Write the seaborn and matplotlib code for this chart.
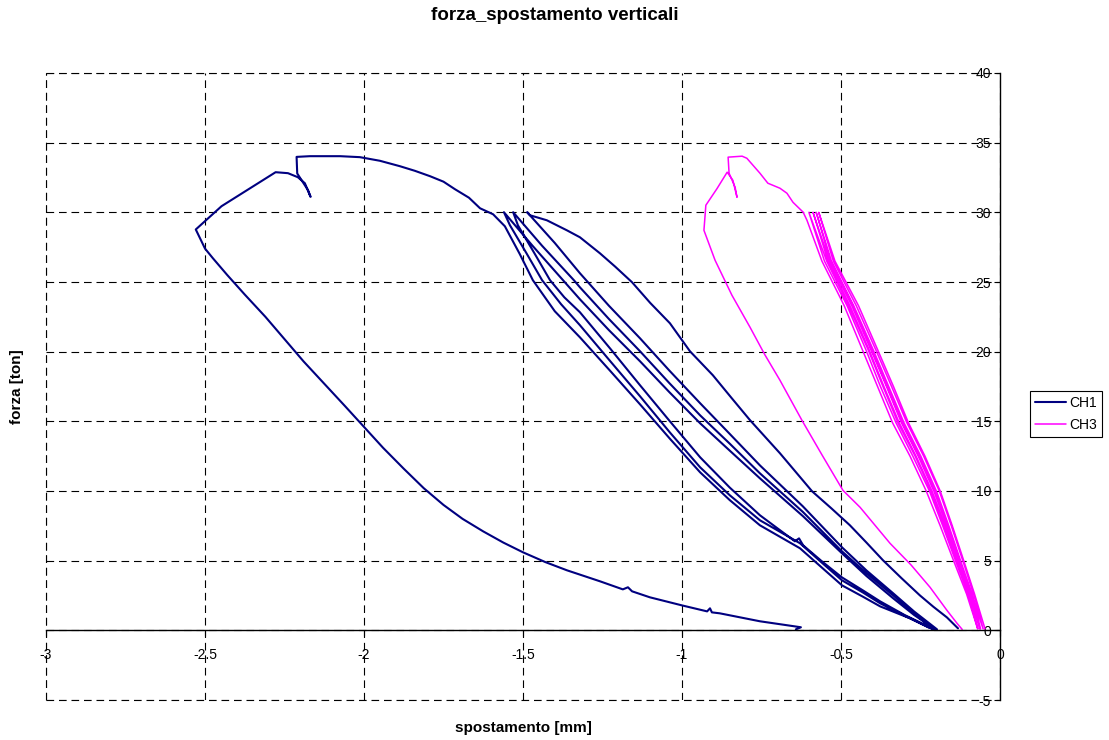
import matplotlib
matplotlib.use("Agg")
import matplotlib.pyplot as plt
from matplotlib.ticker import FuncFormatter
from matplotlib.lines import Line2D
import numpy as np
import pandas as pd
import seaborn as sns

sns.set_style("white")
plt.rcParams["font.family"] = ["Liberation Sans", "DejaVu Sans"]
plt.rcParams["axes.unicode_minus"] = False
plt.rcParams["lines.scale_dashes"] = False
for k in ["text.color", "axes.labelcolor", "xtick.color", "ytick.color"]:
    plt.rcParams[k] = "black"

# ---------------- CH1 ----------------
# first loading branch, peak with hook, plateau and descent to the cycles
ch1_primo_x = [-0.642, -0.626, -0.755, -0.881, -0.906, -0.912, -0.921, -1.000, -1.101, -1.157,
               -1.170, -1.186, -1.258, -1.362, -1.430, -1.500, -1.562, -1.625, -1.690, -1.750,
               -1.812, -1.875, -1.940, -2.000, -2.060, -2.125, -2.190, -2.250, -2.310, -2.375,
               -2.430, -2.475, -2.500, -2.529, -2.448, -2.360, -2.278, -2.239, -2.208, -2.186,
               -2.168, -2.176, -2.210, -2.212, -2.170, -2.075, -2.013, -1.950, -1.887, -1.840,
               -1.792, -1.750, -1.714, -1.670, -1.635, -1.594]
ch1_primo_y = [0.07, 0.22, 0.65, 1.22, 1.29, 1.58, 1.36, 1.79, 2.37, 2.80,
               3.09, 2.94, 3.52, 4.31, 4.90, 5.60, 6.30, 7.10, 8.00, 9.00,
               10.20, 11.60, 13.10, 14.60, 16.10, 17.70, 19.30, 20.90, 22.50, 24.10,
               25.50, 26.70, 27.40, 28.77, 30.44, 31.70, 32.88, 32.81, 32.52, 32.09,
               31.11, 31.59, 32.79, 33.98, 34.03, 34.03, 33.96, 33.70, 33.31, 32.98,
               32.59, 32.20, 31.66, 31.05, 30.29, 29.86]

# cycle branches (in acquisition order)
ch1_scarico1_x = [-1.557, -1.510, -1.469, -1.400, -1.321, -1.225, -1.132, -1.038, -0.943, -0.850,
                  -0.755, -0.629, -0.560, -0.497, -0.430, -0.377, -0.283, -0.226]
ch1_scarico1_y = [29.00, 27.00, 25.13, 22.90, 21.03, 18.60, 16.22, 13.75, 11.34, 9.35,
                  7.54, 5.89, 4.50, 3.23, 2.40, 1.72, 0.86, 0.22]

ch1_ricarico1_x = [-0.204, -0.270, -0.336, -0.420, -0.497, -0.620, -0.755, -0.850, -0.943, -1.040,
                   -1.132, -1.230, -1.321, -1.374, -1.470, -1.560]
ch1_ricarico1_y = [0.07, 1.10, 2.30, 3.90, 5.53, 8.20, 10.91, 12.90, 14.86, 17.10,
                   19.31, 21.55, 23.76, 25.13, 27.60, 30.01]

ch1_scarico2_x = [-1.541, -1.490, -1.440, -1.380, -1.321, -1.225, -1.132, -1.038, -0.943, -0.850,
                  -0.755, -0.629, -0.560, -0.497, -0.430, -0.377, -0.300, -0.236, -0.211]
ch1_scarico2_y = [29.07, 27.10, 25.13, 23.40, 21.90, 19.30, 16.80, 14.20, 11.70, 9.70,
                  7.90, 6.25, 4.85, 3.59, 2.70, 1.94, 1.05, 0.36, 0.07]

ch1_ricarico2_x = [-0.270, -0.336, -0.420, -0.497, -0.620, -0.755, -0.850, -0.943, -1.040, -1.132,
                   -1.230, -1.321, -1.340, -1.440, -1.531]
ch1_ricarico2_y = [1.25, 2.51, 4.10, 5.67, 8.50, 11.27, 13.40, 15.43, 17.75, 20.03,
                   22.35, 24.62, 25.13, 27.60, 30.01]

ch1_scarico3_x = [-1.516, -1.465, -1.415, -1.370, -1.321, -1.225, -1.132, -1.038, -0.943, -0.850,
                  -0.755, -0.645, -0.632, -0.619, -0.560, -0.497, -0.430, -0.377, -0.300, -0.220]
ch1_scarico3_y = [29.07, 27.10, 25.13, 23.90, 22.83, 20.20, 17.59, 15.00, 12.42, 10.25,
                  8.26, 6.39, 6.60, 6.10, 4.95, 3.80, 2.85, 2.08, 1.10, 0.22]

ch1_ricarico3_x = [-0.198, -0.270, -0.336, -0.420, -0.497, -0.620, -0.755, -0.850, -0.943, -1.040,
                   -1.132, -1.230, -1.321, -1.400, -1.487]
ch1_ricarico3_y = [0.07, 1.35, 2.66, 4.30, 5.96, 8.90, 11.84, 14.10, 16.30, 18.65,
                   20.96, 23.30, 25.63, 27.80, 30.01]

ch1_scarico4_x = [-1.478, -1.425, -1.362, -1.321, -1.258, -1.210, -1.157, -1.100, -1.038, -0.975,
                  -0.903, -0.845, -0.786, -0.692, -0.591, -0.530, -0.472, -0.420, -0.368, -0.310,
                  -0.252, -0.210, -0.167, -0.132]
ch1_scarico4_y = [29.79, 29.43, 28.71, 28.21, 27.06, 26.10, 24.98, 23.50, 22.04, 20.03,
                  18.31, 16.70, 15.08, 12.71, 9.98, 8.75, 7.54, 6.30, 5.03, 3.75,
                  2.51, 1.70, 0.93, 0.14]

# ---------------- CH3 ----------------
ch3_primo_x = [-0.119, -0.135, -0.167, -0.220, -0.280, -0.346, -0.440, -0.494, -0.560, -0.623,
               -0.692, -0.740, -0.786, -0.843, -0.896, -0.931, -0.925, -0.890, -0.858, -0.840,
               -0.827, -0.833, -0.852, -0.855, -0.811, -0.796, -0.755, -0.730, -0.692, -0.670,
               -0.651, -0.619, -0.607]
ch3_primo_y = [0.07, 0.50, 1.44, 3.09, 4.70, 6.25, 8.83, 10.05, 12.60, 15.08,
               17.95, 19.80, 21.75, 24.05, 26.56, 28.71, 30.51, 31.70, 32.88, 32.30,
               31.08, 31.80, 32.81, 33.96, 34.03, 33.88, 32.81, 32.09, 31.73, 31.37,
               30.72, 30.01, 29.43]

# cycles: displacement read at fixed force levels (top -> bottom)
ch3_livelli = [30.0, 26.5, 23.3, 20.1, 17.5, 14.9, 12.5, 10.0, 7.5, 5.0, 2.6, 0.1]
ch3_scarico1 = [-0.560, -0.490, -0.432, -0.385, -0.338, -0.283, -0.232, -0.188, -0.146, -0.105, -0.070]
ch3_ricarico1 = [-0.601, -0.552, -0.481, -0.421, -0.376, -0.327, -0.274, -0.222, -0.180, -0.140, -0.100, -0.070]
ch3_scarico2 = [-0.601, -0.545, -0.476, -0.414, -0.368, -0.321, -0.267, -0.217, -0.176, -0.137, -0.097, -0.064]
ch3_ricarico2 = [-0.588, -0.536, -0.466, -0.405, -0.357, -0.310, -0.257, -0.208, -0.167, -0.129, -0.091, -0.064]
ch3_scarico3 = [-0.588, -0.541, -0.472, -0.411, -0.365, -0.317, -0.264, -0.214, -0.172, -0.134, -0.096, -0.061]
ch3_ricarico3 = [-0.578, -0.530, -0.460, -0.398, -0.350, -0.302, -0.249, -0.200, -0.161, -0.124, -0.088, -0.061]
ch3_scarico4 = [-0.578, -0.533, -0.463, -0.403, -0.355, -0.307, -0.254, -0.205, -0.164, -0.127, -0.090, -0.053]
ch3_ricarico4 = [-0.570, -0.524, -0.452, -0.390, -0.341, -0.293, -0.240, -0.191, -0.153, -0.117, -0.083, -0.053]
ch3_scarico5 = [-0.570, -0.519, -0.445, -0.384, -0.335, -0.288, -0.236, -0.188, -0.150, -0.114, -0.080, -0.047]

x_ticks = [-3, -2.5, -2, -1.5, -1, -0.5, 0]
y_ticks = [-5, 0, 5, 10, 15, 20, 25, 30, 35, 40]
canali = ["CH1", "CH3"]
colori = {"CH1": "#000080", "CH3": "#FF00FF"}
spessori = {"CH1": 1.5, "CH3": 1.1}

# ---- assemble the acquisition paths ----
ch1_x = (ch1_primo_x + ch1_scarico1_x + ch1_ricarico1_x + ch1_scarico2_x + ch1_ricarico2_x
         + ch1_scarico3_x + ch1_ricarico3_x + ch1_scarico4_x)
ch1_y = (ch1_primo_y + ch1_scarico1_y + ch1_ricarico1_y + ch1_scarico2_y + ch1_ricarico2_y
         + ch1_scarico3_y + ch1_ricarico3_y + ch1_scarico4_y)

giu = ch3_livelli
su = ch3_livelli[::-1]
ch3_x = (ch3_primo_x + ch3_scarico1 + ch3_ricarico1[::-1] + ch3_scarico2 + ch3_ricarico2[::-1]
         + ch3_scarico3 + ch3_ricarico3[::-1] + ch3_scarico4 + ch3_ricarico4[::-1] + ch3_scarico5)
ch3_y = (ch3_primo_y + giu[1:] + su + giu + su + giu + su + giu + su + giu)

df = pd.concat([
    pd.DataFrame({"spostamento": ch1_x, "forza": ch1_y, "canale": "CH1"}),
    pd.DataFrame({"spostamento": ch3_x, "forza": ch3_y, "canale": "CH3"}),
], ignore_index=True)

W, H = 1109, 740
fig = plt.figure(figsize=(W / 100, H / 100), dpi=100)
ax = fig.add_axes([46 / W, 40 / H, 954 / W, 627 / H])

for c in canali:
    sns.lineplot(data=df[df.canale == c], x="spostamento", y="forza", color=colori[c],
                 sort=False, estimator=None, linewidth=spessori[c], ax=ax, legend=False)

ax.set_xlim(-3, 0)
ax.set_ylim(-5, 40)
ax.set_xticks(x_ticks)
ax.set_yticks(y_ticks)
fmt = FuncFormatter(lambda v, p: f"{v:g}")
ax.xaxis.set_major_formatter(fmt)
ax.yaxis.set_major_formatter(fmt)

griglia = dict(color="black", linestyle=(0, (5.5, 3.5)), linewidth=0.8)
ax.grid(True, **griglia)
# plot-area border lines drawn whole (not half-clipped at the edges)
ax.axhline(y_ticks[0], clip_on=False, zorder=1, **griglia)
ax.axhline(y_ticks[-1], clip_on=False, zorder=1, **griglia)
ax.axvline(x_ticks[0], clip_on=False, zorder=1, **griglia)

for s in ["top", "right"]:
    ax.spines[s].set_visible(False)
ax.spines["left"].set_position(("data", 0))
ax.spines["bottom"].set_position(("data", 0))
for s in ["left", "bottom"]:
    ax.spines[s].set_color("black")
    ax.spines[s].set_linewidth(1.0)
    ax.spines[s].set_zorder(3)

ax.tick_params(axis="y", direction="out", length=4, width=0.8, color="black",
               labelcolor="black", labelsize=10, pad=2.5, left=True)
ax.tick_params(axis="x", direction="out", length=4, width=0.8, color="black",
               labelcolor="black", labelsize=10, pad=9, bottom=True)

ax.set_xlabel("spostamento [mm]", fontsize=11, fontweight="bold", color="black")
ax.set_ylabel("forza [ton]", fontsize=11, fontweight="bold", color="black")
ax.xaxis.set_label_coords(0.5, -0.034)
ax.yaxis.set_label_coords(-0.023, 0.5)

fig.suptitle("forza_spostamento verticali", fontsize=13.5, fontweight="bold", color="black",
             x=0.5, y=1 - 16 / H, va="center")

handles = [Line2D([0], [0], color=colori[c], linewidth=spessori[c]) for c in canali]
leg = ax.legend(handles, canali, loc="center", bbox_to_anchor=(1066 / W, 1 - 414 / H),
                bbox_transform=fig.transFigure, frameon=True, fancybox=False, framealpha=1,
                edgecolor="black", fontsize=10, handlelength=2.2, handletextpad=0.25,
                borderpad=0.4, labelspacing=0.55, borderaxespad=0)
leg.get_frame().set_linewidth(0.8)
for t in leg.get_texts():
    t.set_color("black")

fig.savefig("out.png", dpi=100)
